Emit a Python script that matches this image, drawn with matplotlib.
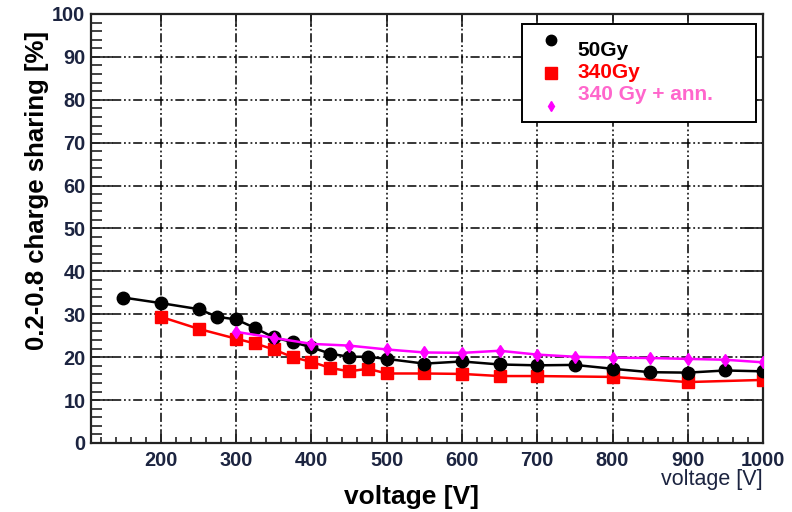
import numpy as np
import matplotlib
matplotlib.use('Agg')
import matplotlib.pyplot as plt
from matplotlib.patches import Rectangle
from matplotlib.ticker import MultipleLocator

plt.rcParams['font.family'] = ['Liberation Sans', 'DejaVu Sans']

# charge sharing fraction vs bias voltage
v_50 = [150, 200, 250, 275, 300, 325, 350, 375, 400, 425, 450, 475, 500,
        550, 600, 650, 700, 750, 800, 850, 900, 950, 1000]
cs_50 = [33.9, 32.6, 31.2, 29.4, 28.8, 26.8, 24.6, 23.5, 22.3, 20.8, 20.1, 20.1, 19.6,
         18.5, 19.0, 18.3, 18.1, 18.2, 17.3, 16.5, 16.4, 16.9, 16.7]

v_340 = [200, 250, 300, 325, 350, 375, 400, 425, 450, 475, 500,
         550, 600, 650, 700, 800, 900, 1000]
cs_340 = [29.4, 26.6, 24.3, 23.2, 21.8, 20.0, 18.9, 17.5, 16.7, 17.3, 16.2,
          16.2, 16.1, 15.6, 15.6, 15.4, 14.2, 14.7]

v_ann = [300, 350, 400, 450, 500, 550, 600, 650, 700, 750, 800, 850, 900, 950, 1000]
cs_ann = [25.9, 24.5, 23.1, 22.7, 21.8, 21.1, 21.0, 21.5, 20.6, 20.1, 19.9, 19.8,
          19.6, 19.4, 18.8]

labels = ['50Gy', '340Gy', '340 Gy + ann.']
text_colors = ['black', '#ff0000', '#ff66cc']

tick_col = '#1c2440'

fig = plt.figure(figsize=(7.92, 5.12), dpi=100)
ax = fig.add_axes([0.1149, 0.1348, 0.8485, 0.8379])

ax.plot(v_50, cs_50, '-o', color='black', lw=1.8, ms=9, zorder=5)
ax.plot(v_340, cs_340, '-s', color='#ff0000', lw=1.8, ms=8.5, zorder=4)
ax.plot(v_ann, cs_ann, '-d', color='#ff00ff', lw=1.8, ms=6.5, zorder=6)

ax.set_xlim(107, 1000)
ax.set_ylim(0, 100)

ax.xaxis.set_major_locator(MultipleLocator(100))
ax.xaxis.set_minor_locator(MultipleLocator(20))
ax.yaxis.set_major_locator(MultipleLocator(10))
ax.yaxis.set_minor_locator(MultipleLocator(2))

ax.grid(True, which='major', color='black', lw=1.1,
        linestyle=(0, (6, 1.8, 1.2, 1.8, 1.2, 1.8)))
ax.set_axisbelow(True)

ax.tick_params(axis='both', which='both', direction='in', colors='#222222',
               labelcolor=tick_col, labelsize=14.3, width=1.2)
ax.tick_params(axis='y', which='major', length=16, pad=4, right=True)
ax.tick_params(axis='y', which='minor', length=8)
ax.tick_params(axis='x', which='major', length=9, pad=6, top=True)
ax.tick_params(axis='x', which='minor', length=4.5)
for lab in ax.get_xticklabels() + ax.get_yticklabels():
    lab.set_fontweight('bold')

for sp in ax.spines.values():
    sp.set_linewidth(1.6)
    sp.set_color('#222222')

# legend box drawn by hand
ax.add_patch(Rectangle((0.641, 0.748), 0.349, 0.229, transform=ax.transAxes,
                       facecolor='white', edgecolor='black', lw=1.4, zorder=10))
ax.plot([0.685], [0.939], 'o', color='black', ms=7.5, transform=ax.transAxes,
        zorder=11, clip_on=False)
ax.plot([0.685], [0.862], 's', color='#ff0000', ms=8.5, transform=ax.transAxes,
        zorder=11, clip_on=False)
ax.plot([0.685], [0.786], 'd', color='#ff00ff', ms=5.5, transform=ax.transAxes,
        zorder=11, clip_on=False)
for lab, col, yy in zip(labels, text_colors, [0.914, 0.863, 0.813]):
    ax.text(0.724, yy, lab, color=col, fontsize=15, fontweight='bold',
            transform=ax.transAxes, ha='left', va='center', zorder=12)

fig.text(0.047, 0.628, '0.2-0.8 charge sharing [%]', rotation=90, ha='center',
         va='center', fontsize=18.5, fontweight='bold', color='black')
fig.text(0.52, 0.029, 'voltage [V]', ha='center', va='center', fontsize=19,
         fontweight='bold', color='black')
fig.text(0.963, 0.0625, 'voltage [V]', ha='right', va='center', fontsize=15.5,
         color=tick_col)

fig.savefig('out.png', dpi=100)
